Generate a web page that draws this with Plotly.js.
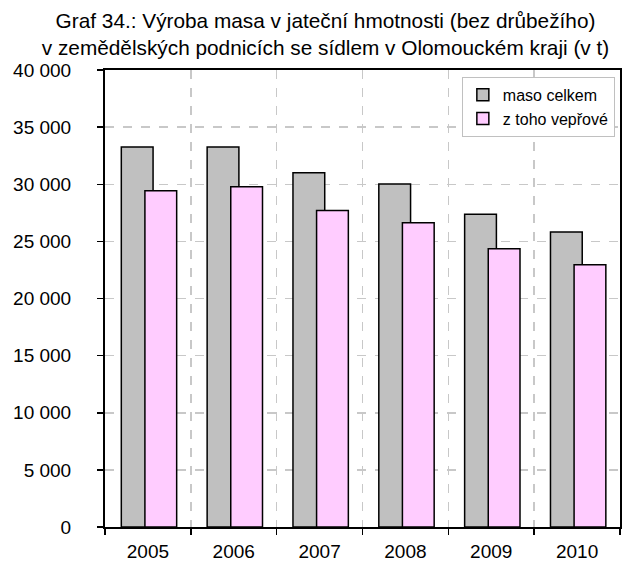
<!DOCTYPE html>
<html>
<head>
<meta charset="utf-8">
<script src="https://cdn.plot.ly/plotly-3.0.1.min.js"></script>
<style>
  html, body { margin: 0; padding: 0; background: #fff; }
  #plot { width: 626px; height: 565px; }
</style>
</head>
<body>
<div id="plot"></div>
<script>
    // --- data ---
    const years = ['2005', '2006', '2007', '2008', '2009', '2010'];
    const masoCelkem = [33270, 33260, 31000, 30030, 27380, 25830];
    const zTohoVeprove = [29440, 29790, 27700, 26620, 24350, 22950];

    const font = 'Liberation Sans, Arial, sans-serif';

    const traceCelkem = {
        x: years,
        y: masoCelkem,
        type: 'bar',
        name: 'maso celkem',
        width: 0.37,
        offset: -0.31,
        marker: { color: '#c0c0c0', line: { color: '#000', width: 1.5 } },
        hoverinfo: 'y'
    };
    const traceVeprove = {
        x: years,
        y: zTohoVeprove,
        type: 'bar',
        name: 'z toho vepřové',
        width: 0.37,
        offset: -0.035,
        marker: { color: '#ffccff', line: { color: '#000', width: 1.5 } },
        hoverinfo: 'y'
    };

    const layout = {
        width: 626,
        height: 565,
        margin: { l: 105, r: 6, t: 70, b: 38 },
        paper_bgcolor: '#fff',
        plot_bgcolor: '#fff',
        font: { family: font, size: 18, color: '#000' },
        separators: '. ',
        barmode: 'overlay',
        showlegend: true,
        title: {
            text: 'Graf 34.: Výroba masa v jateční hmotnosti (bez drůbežího)<br>v zemědělských podnicích se sídlem v Olomouckém kraji (v t)',
            font: { family: font, size: 20.8, color: '#000' },
            x: 0.52, xanchor: 'center', xref: 'container',
            y: 0.951, yanchor: 'middle', yref: 'container'
        },
        xaxis: {
            type: 'category',
            tickson: 'boundaries',
            ticks: 'outside', ticklen: 6, tickwidth: 1.5, tickcolor: '#000',
            showline: true, linecolor: '#000', linewidth: 2, mirror: true,
            showgrid: true, gridcolor: '#c8c8c8', griddash: 'dash', gridwidth: 1.5,
            tickfont: { family: font, size: 19 },
            ticklabelstandoff: 6,
            fixedrange: true
        },
        yaxis: {
            range: [0, 40000],
            dtick: 5000,
            tickformat: ',d',
            ticks: 'outside', ticklen: 6, tickwidth: 1.5, tickcolor: '#000',
            showline: true, linecolor: '#000', linewidth: 2, mirror: true,
            showgrid: true, gridcolor: '#c8c8c8', griddash: 'dash', gridwidth: 1.5,
            zeroline: false,
            tickfont: { family: font, size: 19 },
            ticklabelstandoff: 22,
            fixedrange: true
        },
        legend: {
            x: 0.99, xanchor: 'right',
            y: 0.985, yanchor: 'top',
            bgcolor: '#fff',
            bordercolor: '#c0c0c0', borderwidth: 1,
            font: { family: font, size: 16 },
            itemwidth: 30,
            tracegroupgap: 0
        }
    };

    Plotly.newPlot('plot', [traceCelkem, traceVeprove], layout, { displayModeBar: false, staticPlot: true });
</script>
</body>
</html>
